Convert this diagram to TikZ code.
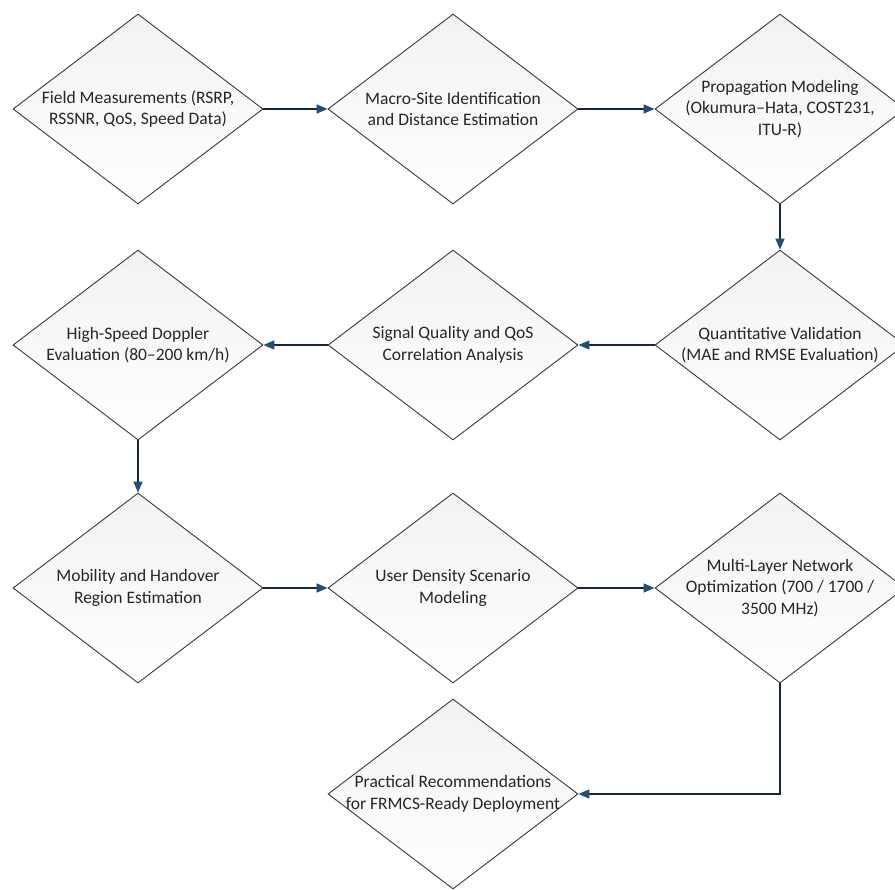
\documentclass[tikz,border=0pt]{standalone}
\usepackage{fontspec}
\setmainfont{Carlito}
\usepackage{tikz}
\usetikzlibrary{positioning, arrows.meta, shapes.geometric}

\definecolor{boxline}{HTML}{3A3A3A}
\definecolor{boxtext}{HTML}{262626}
\definecolor{flowline}{HTML}{17263A}
\definecolor{flowtip}{HTML}{1F4E79}

\tikzset{
    stepbox/.style={diamond, draw=boxline, line width=0.9pt,
        top color=black!5, bottom color=white,
        minimum width=250pt, minimum height=190pt, inner sep=0pt},
    steptext/.style={align=center, text=boxtext, inner sep=0pt,
        font=\fontsize{17.5}{21.5}\selectfont},
    flow/.style={flowline, line width=1.6pt,
        -{Triangle[length=11pt, width=9pt, color=flowtip]}}
}

\begin{document}
\begin{tikzpicture}[x=1pt, y=-1pt]
    % page
    \path[fill=white, use as bounding box] (0,0) rectangle (895,890);

    % steps
    \foreach \name/\px/\py/\txt in {
        fm/138/109/{Field Measurements (RSRP,\\RSSNR, QoS, Speed Data)},
        ms/453/109/{Macro-Site Identification\\and Distance Estimation},
        pm/780/109/{Propagation Modeling\\(Okumura--Hata, COST231,\\ITU-R)},
        qv/780/345/{Quantitative Validation\\(MAE and RMSE Evaluation)},
        sq/453/345/{Signal Quality and QoS\\Correlation Analysis},
        hs/138/345/{High-Speed Doppler\\Evaluation (80--200 km/h)},
        mh/138/588/{Mobility and Handover\\Region Estimation},
        ud/453/588/{User Density Scenario\\Modeling},
        ml/780/588/{Multi-Layer Network\\Optimization (700 / 1700 /\\3500 MHz)},
        pr/453/794/{Practical Recommendations\\for FRMCS-Ready Deployment}}
    {
        \node[stepbox, label={[steptext]center:\txt}] (\name) at (\px,\py) {};
    }

    % flow
    \foreach \from/\to in {fm/ms, ms/pm, pm/qv, qv/sq, sq/hs, hs/mh, mh/ud, ud/ml}
    {
        \draw[flow] (\from) -- (\to);
    }
    \draw[flow] (ml) |- (pr);
\end{tikzpicture}
\end{document}
